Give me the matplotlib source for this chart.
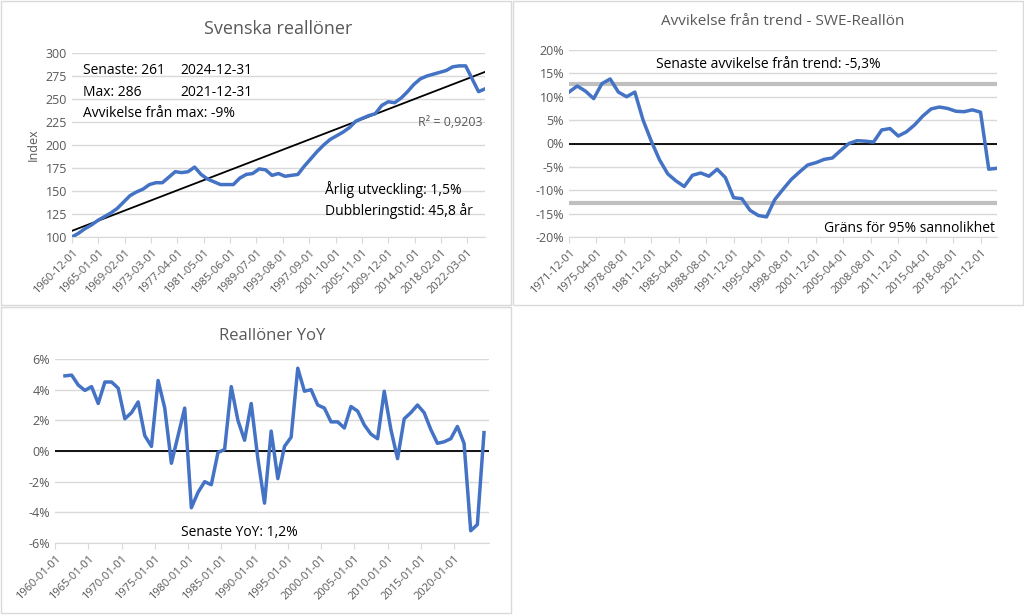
import matplotlib
matplotlib.use("Agg")
import matplotlib.pyplot as plt
import numpy as np
from matplotlib.patches import Rectangle
from matplotlib.ticker import FuncFormatter

plt.rcParams['font.family'] = ['Open Sans', 'DejaVu Sans']

# --- data ---
real_index = [100,104,109,113,118,122,126,131,138,145,149,152,157,159,159,165,171,170,171,176,
              168,163,160,157,157,157,164,168,169,174,173,167,169,166,167,168,177,185,193,200,
              206,210,214,219,226,229,232,234,243,247,246,251,258,266,272,275,277,279,281,285,
              286,286,272,258,261]
real_start = 1960 + 11/12
ticks1 = ["1960-12-01","1965-01-01","1969-02-01","1973-03-01","1977-04-01","1981-05-01","1985-06-01",
          "1989-07-01","1993-08-01","1997-09-01","2001-10-01","2005-11-01","2009-12-01","2014-01-01",
          "2018-02-01","2022-03-01"]

dev_trend = [11,12.3,11.2,9.6,12.8,13.8,11,10,11,5,0.5,-3.5,-6.5,-8,-9.2,-6.8,-6.3,-7,-5.5,-7.3,
             -11.6,-11.8,-14.3,-15.4,-15.7,-12,-9.8,-7.7,-6.1,-4.6,-4.1,-3.4,-3.1,-1.5,0,0.6,0.5,0.3,
             2.9,3.2,1.6,2.5,4,5.9,7.4,7.8,7.5,6.9,6.8,7.2,6.7,-5.5,-5.3]
dev_start = 1971 + 11/12
ticks2 = ["1971-12-01","1975-04-01","1978-08-01","1981-12-01","1985-04-01","1988-08-01","1991-12-01",
          "1995-04-01","1998-08-01","2001-12-01","2005-04-01","2008-08-01","2011-12-01","2015-04-01",
          "2018-08-01","2021-12-01"]
band = 12.8

yoy = [4.9,4.95,4.3,3.95,4.2,3.1,4.5,4.5,4.1,2.1,2.5,3.2,1.0,0.3,4.6,2.8,-0.8,1.0,2.8,-3.7,
       -2.7,-2.0,-2.2,-0.1,0.1,4.2,2.0,0.7,3.1,-0.5,-3.4,1.3,-1.8,0.3,0.9,5.4,3.9,4.0,3.0,2.8,
       1.9,1.9,1.5,2.9,2.6,1.7,1.1,0.8,3.9,1.4,-0.5,2.1,2.5,3.0,2.5,1.4,0.5,0.6,0.8,1.6,
       0.5,-5.2,-4.8,1.2]
yoy_start = 1961.5
ticks3 = ["1960-01-01","1965-01-01","1970-01-01","1975-01-01","1980-01-01","1985-01-01","1990-01-01",
          "1995-01-01","2000-01-01","2005-01-01","2010-01-01","2015-01-01","2020-01-01"]

BLUE = "#4472C4"
GRID = "#D9D9D9"
TXT = "#595959"

def tpos(labels):
    return [int(s[:4]) + (int(s[5:7]) - 1) / 12 for s in labels]

fig = plt.figure(figsize=(10.24, 6.15), dpi=100)
W, H = 1024, 615
for (x0, y0, w, h) in [(1, 1, 510, 304), (513, 1, 510, 304), (1, 307, 510, 306)]:
    fig.patches.append(Rectangle((x0 / W, 1 - (y0 + h) / H), w / W, h / H, transform=fig.transFigure,
                                 fill=False, edgecolor="#D9D9D9", lw=1))

def style(ax):
    for s in ["top", "right", "left"]:
        ax.spines[s].set_visible(False)
    ax.spines["bottom"].set_color(GRID)
    ax.grid(axis="y", color=GRID, lw=1)
    ax.set_axisbelow(True)
    ax.tick_params(axis="y", length=0, labelcolor=TXT, labelsize=9)
    ax.tick_params(axis="x", color=GRID, labelcolor=TXT, labelsize=8, length=4)

def ax_px(l, t, r, b):
    return fig.add_axes([l / W, 1 - b / H, (r - l) / W, (b - t) / H])

# chart 1
ax1 = ax_px(72, 53, 485, 237)
x1 = real_start + np.arange(len(real_index))
coef = np.polyfit(x1, real_index, 1)
ax1.plot(x1, np.polyval(coef, x1), color="black", lw=1.3)
ax1.plot(x1, real_index, color=BLUE, lw=2.5)
ax1.set_xlim(x1[0], x1[-1])
ax1.set_ylim(100, 300)
ax1.set_yticks(range(100, 301, 25))
ax1.set_xticks(tpos(ticks1))
ax1.set_xticklabels(ticks1, rotation=45, ha="right", rotation_mode="anchor")
ax1.set_ylabel("Index", color=TXT, fontsize=9)
style(ax1)
ax1.set_title("Svenska reallöner", color=TXT, fontsize=13, pad=14)
kw = dict(transform=fig.transFigure, fontsize=10, color="black")
fig.text(83 / W, 1 - 70 / H, "Senaste: 261", va="center", **kw)
fig.text(180 / W, 1 - 70 / H, "2024-12-31", va="center", **kw)
fig.text(83 / W, 1 - 92 / H, "Max: 286", va="center", **kw)
fig.text(180 / W, 1 - 92 / H, "2021-12-31", va="center", **kw)
fig.text(83 / W, 1 - 114 / H, "Avvikelse från max: -9%", va="center", **kw)
fig.text(482 / W, 1 - 123 / H, "R² = 0,9203", va="center", ha="right", transform=fig.transFigure, fontsize=9, color=TXT)
fig.text(325 / W, 1 - 189 / H, "Årlig utveckling: 1,5%", va="center", **kw)
fig.text(325 / W, 1 - 211 / H, "Dubbleringstid: 45,8 år", va="center", **kw)

# chart 2
ax2 = ax_px(569, 50, 997, 237)
x2 = dev_start + np.arange(len(dev_trend))
ax2.axhline(band, color="#BFBFBF", lw=3)
ax2.axhline(-band, color="#BFBFBF", lw=3)
ax2.axhline(0, color="black", lw=1.3)
ax2.plot(x2, dev_trend, color=BLUE, lw=2.5)
ax2.set_xlim(x2[0], x2[-1])
ax2.set_ylim(-20, 20)
ax2.set_yticks(range(-20, 21, 5))
ax2.yaxis.set_major_formatter(FuncFormatter(lambda v, p: f"{v:.0f}%"))
ax2.set_xticks(tpos(ticks2))
ax2.set_xticklabels(ticks2, rotation=45, ha="right", rotation_mode="anchor")
style(ax2)
ax2.set_title("Avvikelse från trend - SWE-Reallön", color=TXT, fontsize=11, pad=18)
fig.text(656 / W, 1 - 65 / H, "Senaste avvikelse från trend: -5,3%", va="center", **kw)
fig.text(995 / W, 1 - 228 / H, "Gräns för 95% sannolikhet", va="center", ha="right", **kw)

# chart 3
ax3 = ax_px(55, 359, 489, 543)
x3 = yoy_start + np.arange(len(yoy))
ax3.axhline(0, color="black", lw=1.3)
ax3.plot(x3, yoy, color=BLUE, lw=2.5)
ax3.set_xlim(1960, 2025.25)
ax3.set_ylim(-6, 6)
ax3.set_yticks(range(-6, 7, 2))
ax3.yaxis.set_major_formatter(FuncFormatter(lambda v, p: f"{v:.0f}%"))
ax3.set_xticks(tpos(ticks3))
ax3.set_xticklabels(ticks3, rotation=45, ha="right", rotation_mode="anchor")
style(ax3)
ax3.set_title("Reallöner YoY", color=TXT, fontsize=12, pad=14)
fig.text(181 / W, 1 - 533 / H, "Senaste YoY: 1,2%", va="center", **kw)

fig.savefig("out.png", dpi=100)
